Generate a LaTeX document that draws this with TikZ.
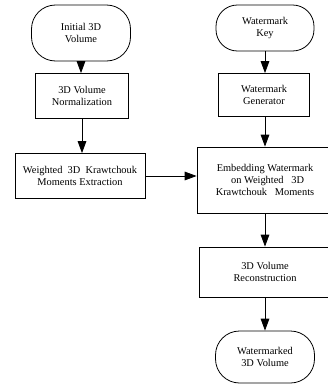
\documentclass[tikz,border=0pt]{standalone}
\usepackage{fontspec}
\setmainfont{Liberation Serif}
\usetikzlibrary{arrows.meta}
\begin{document}
\begin{tikzpicture}[x=0.75pt,y=-0.75pt,
  base/.style={draw=black,line width=0.6pt,align=center,inner sep=0pt,
    font=\fontsize{7.8}{9.2}\selectfont},
  procbox/.style={base,rectangle},
  term/.style={base,rectangle,rounded corners=18pt},
  flow/.style={line width=0.6pt,-{Triangle[width=6.5pt,length=9pt]}}]
\useasboundingbox (0,0) rectangle (328,389);
\node[term,minimum width=99*0.75pt,minimum height=56*0.75pt] (init) at (81,33) {Initial 3D\\Volume};
\node[procbox,minimum width=93*0.75pt,minimum height=45*0.75pt] (norm) at (82,96) {3D Volume\\Normalization};
\node[procbox,minimum width=130*0.75pt,minimum height=45*0.75pt] (weight) at (80,176) {Weighted\ \ 3D\ \ Krawtchouk\\Moments Extraction};
\node[term,rounded corners=16pt,minimum width=98*0.75pt,minimum height=46*0.75pt] (key) at (265,28) {Watermark\\Key};
\node[procbox,minimum width=91*0.75pt,minimum height=43*0.75pt] (gen) at (264,95) {Watermark\\Generator};
\node[procbox,minimum width=136*0.75pt,minimum height=66*0.75pt] (embed) at (265,180) {Embedding Watermark\\\ \ on Weighted\ \ \ 3D\\Krawtchouk\ \ \ Moments};
\node[procbox,minimum width=132*0.75pt,minimum height=50*0.75pt] (recon) at (265,272) {3D Volume\\Reconstruction};
\node[term,minimum width=99*0.75pt,minimum height=52*0.75pt] (wm) at (265,357) {Watermarked\\3D Volume};
\draw[flow] (init.south) -- (init.south |- norm.north);
\draw[flow] (norm.south) -- (norm.south |- weight.north);
\draw[flow] (key.south) -- (key.south |- gen.north);
\draw[flow] (key.south |- gen.south) -- (key.south |- embed.north);
\draw[flow] (embed.south) -- (recon.north);
\draw[flow] (recon.south) -- (wm.north);
\draw[flow] (weight.east) -- (weight.east -| embed.west);
\end{tikzpicture}
\end{document}
